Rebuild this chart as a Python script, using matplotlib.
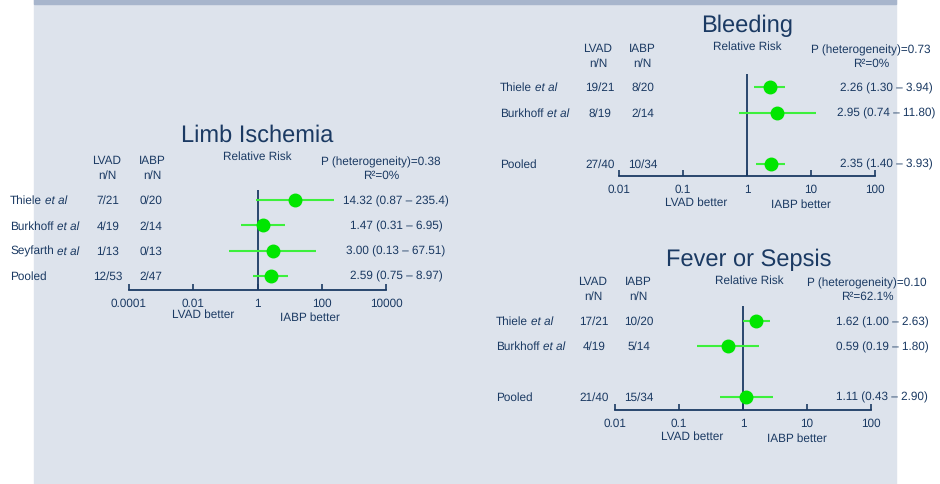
import matplotlib.pyplot as plt
from matplotlib.patches import Rectangle
from matplotlib.ticker import NullLocator
from matplotlib.transforms import blended_transform_factory

plt.rcParams['font.family'] = ['Liberation Sans', 'DejaVu Sans']
plt.rcParams['text.hinting'] = 'no_hinting'

W, H = 940, 485
NAVY = '#1b3a63'
DOT = '#00e600'
CI = '#3cf03c'
FS = 8.5

# ---- Limb ischemia ----
limb_studies = ['Thiele', 'Burkhoff', 'Seyfarth', 'Pooled']
limb_lvad = ['7/21', '4/19', '1/13', '12/53']
limb_iabp = ['0/20', '2/14', '0/13', '2/47']
limb_rr = [14.32, 1.47, 3.00, 2.59]
limb_lo = [0.87, 0.31, 0.13, 0.75]
limb_hi = [235.4, 6.95, 67.51, 8.97]
limb_labels = ['14.32 (0.87 – 235.4)', '1.47 (0.31 – 6.95)',
               '3.00 (0.13 – 67.51)', '2.59 (0.75 – 8.97)']
limb_ticks = [0.0001, 0.01, 1, 100, 10000]
limb_ticklabels = ['0.0001', '0.01', '1', '100', '10000']
limb_het = ['P (heterogeneity)=0.38', 'R²=0%']

# ---- Bleeding ----
bleed_studies = ['Thiele', 'Burkhoff', 'Pooled']
bleed_lvad = ['19/21', '8/19', '27/40']
bleed_iabp = ['8/20', '2/14', '10/34']
bleed_rr = [2.26, 2.95, 2.35]
bleed_lo = [1.30, 0.74, 1.40]
bleed_hi = [3.94, 11.80, 3.93]
bleed_labels = ['2.26 (1.30 – 3.94)', '2.95 (0.74 – 11.80)', '2.35 (1.40 – 3.93)']
bleed_ticks = [0.01, 0.1, 1, 10, 100]
bleed_ticklabels = ['0.01', '0.1', '1', '10', '100']
bleed_het = ['P (heterogeneity)=0.73', 'R²=0%']

# ---- Fever or sepsis ----
fever_studies = ['Thiele', 'Burkhoff', 'Pooled']
fever_lvad = ['17/21', '4/19', '21/40']
fever_iabp = ['10/20', '5/14', '15/34']
fever_rr = [1.62, 0.59, 1.11]
fever_lo = [1.00, 0.19, 0.43]
fever_hi = [2.63, 1.80, 2.90]
fever_labels = ['1.62 (1.00 – 2.63)', '0.59 (0.19 – 1.80)', '1.11 (0.43 – 2.90)']
fever_ticks = [0.01, 0.1, 1, 10, 100]
fever_ticklabels = ['0.01', '0.1', '1', '10', '100']
fever_het = ['P (heterogeneity)=0.10', 'R²=62.1%']

fig = plt.figure(figsize=(W / 100, H / 100), dpi=100)
fig.patches.append(Rectangle((34 / W, 0), 862 / W, 1, transform=fig.transFigure,
                             color='#dde3ec', zorder=-2))
fig.patches.append(Rectangle((34 / W, 1 - 5 / H), 862 / W, 5 / H, transform=fig.transFigure,
                             color='#a7b5cc', zorder=-1))


def ftext(x, y, s, **kw):
    kw.setdefault('fontsize', FS)
    kw.setdefault('ha', 'center')
    fig.text(x / W, 1 - y / H, s, color=NAVY, va='center', **kw)


def forest(box, ylim, rows, cols, studies, lvad, iabp, rr, lo, hi, labels,
           ticks, ticklabels):
    x0, x1, ytop, yaxis = box
    ax = fig.add_axes([x0 / W, 1 - yaxis / H, (x1 - x0) / W, (yaxis - ytop) / H])
    ax.set_facecolor('none')
    ax.set_xscale('log')
    ax.set_xlim(ticks[0], ticks[-1])
    ax.set_ylim(*ylim)
    for s in ('top', 'left', 'right'):
        ax.spines[s].set_visible(False)
    ax.spines['bottom'].set_color(NAVY)
    ax.spines['bottom'].set_linewidth(1.3)
    ax.set_yticks([])
    ax.set_xticks(ticks)
    ax.set_xticklabels(ticklabels)
    ax.xaxis.set_minor_locator(NullLocator())
    ax.tick_params(axis='x', direction='in', length=4, width=1.2, color=NAVY,
                   labelcolor=NAVY, labelsize=FS, pad=5.5)
    ax.axvline(1, color=NAVY, lw=1.3)

    ax.hlines(rows, lo, hi, color=CI, lw=1.5, clip_on=False)
    ax.plot(rr, rows, 'o', ms=9, color=DOT, clip_on=False, zorder=3)

    tr = blended_transform_factory(fig.transFigure, ax.transData)
    name_x, lvad_x, iabp_x, rr_x = cols
    for y, name, a, b, lab in zip(rows, studies, lvad, iabp, labels):
        t = ax.text(name_x / W, y, name, transform=tr, ha='left', va='center',
                    fontsize=FS, color=NAVY)
        if name != 'Pooled':
            ax.annotate('et al', xy=(1, 0.5), xycoords=t, xytext=(2.5, 0),
                        textcoords='offset points', ha='left', va='center',
                        fontsize=FS, color=NAVY, style='italic')
        ax.text(lvad_x / W, y, a, transform=tr, ha='center', va='center',
                fontsize=FS, color=NAVY)
        ax.text(iabp_x / W, y, b, transform=tr, ha='center', va='center',
                fontsize=FS, color=NAVY)
        ax.text(rr_x / W, y, lab, transform=tr, ha='center', va='center',
                fontsize=FS, color=NAVY)
    return ax


def headers(title, tpos, lvad_x, iabp_x, hy, rr_pos, het, het_x, better):
    ftext(*tpos, title, fontsize=17)
    ftext(lvad_x, hy, 'LVAD')
    ftext(lvad_x, hy + 15, 'n/N')
    ftext(iabp_x, hy, 'IABP')
    ftext(iabp_x, hy + 15, 'n/N')
    ftext(*rr_pos, 'Relative Risk')
    ftext(het_x, hy + 1, het[0])
    ftext(het_x, hy + 15, het[1])
    ftext(*better[0], 'LVAD better')
    ftext(*better[1], 'IABP better')


# Limb ischemia panel
forest((129, 386, 191, 291), (3.557, -0.395), [0, 1, 2, 3], (10, 108, 151, 396),
       limb_studies, limb_lvad, limb_iabp, limb_rr, limb_lo, limb_hi, limb_labels,
       limb_ticks, limb_ticklabels)
headers('Limb Ischemia', (257, 136), 107, 152, 161, (257, 157), limb_het, 381,
        [(203, 315), (310, 318)])

# Bleeding panel
forest((619, 875, 75, 177), (3.49, -0.51), [0, 1, 3], (500, 600, 643, 886),
       bleed_studies, bleed_lvad, bleed_iabp, bleed_rr, bleed_lo, bleed_hi, bleed_labels,
       bleed_ticks, bleed_ticklabels)
headers('Bleeding', (747, 26), 598, 642, 49, (747, 47), bleed_het, 871,
        [(696, 203), (801, 205)])

# Fever or sepsis panel
forest((615, 871, 307, 411), (3.52, -0.59), [0, 1, 3], (496, 594, 639, 882),
       fever_studies, fever_lvad, fever_iabp, fever_rr, fever_lo, fever_hi, fever_labels,
       fever_ticks, fever_ticklabels)
headers('Fever or Sepsis', (749, 260), 593, 638, 282, (749, 281), fever_het, 867,
        [(692, 437), (797, 439)])

fig.savefig('out.png', dpi=100)
